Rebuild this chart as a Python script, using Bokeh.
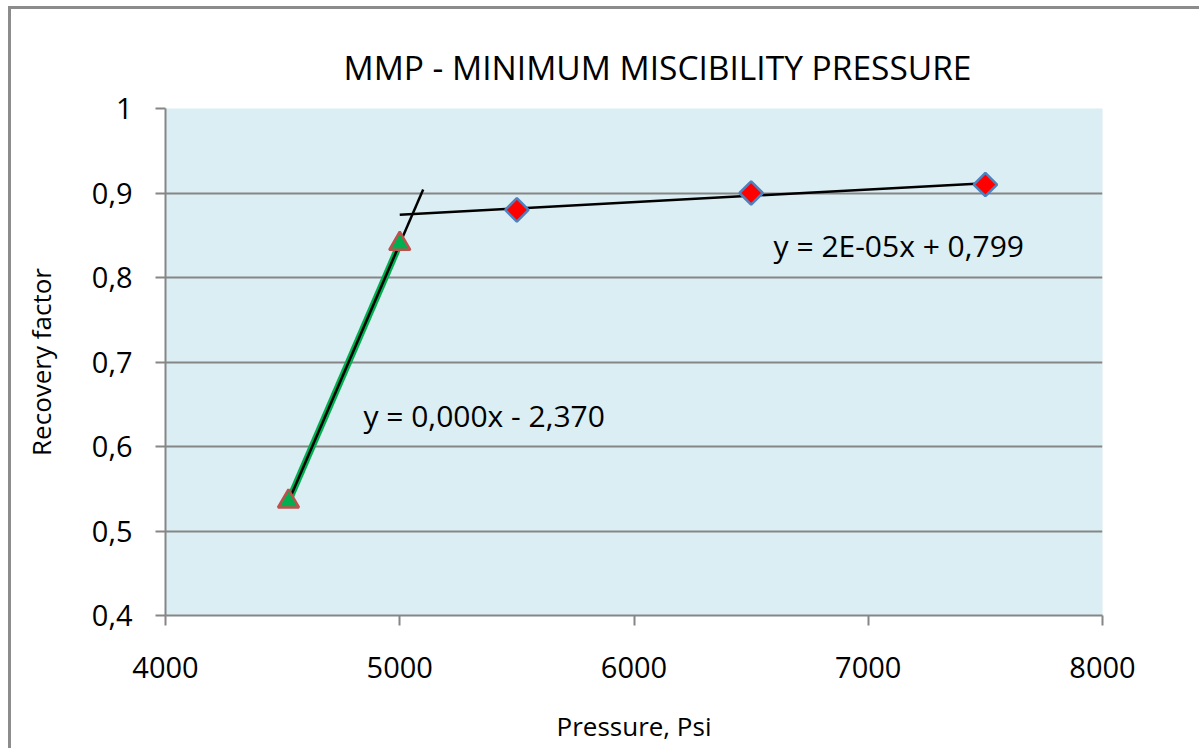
import numpy as np
from bokeh.plotting import figure
from bokeh.models import (Label, FixedTicker, CustomJSTickFormatter, Range1d)
from bokeh.embed import file_html
from bokeh.resources import INLINE

# Immiscible region (triangles) and miscible region (diamonds)
pressure_low = [4525, 5000]
recovery_low = [0.535, 0.84]
pressure_high = [5500, 6500, 7500]
recovery_high = [0.88, 0.90, 0.91]

x_ticks = [4000, 5000, 6000, 7000, 8000]
y_ticks = [0.4, 0.5, 0.6, 0.7, 0.8, 0.9, 1.0]

eq_low = "y = 0,000x - 2,370"
eq_high = "y = 2E-05x + 0,799"

FONT = "Open Sans"
GRID = "#868686"

p = figure(width=1191, height=742, output_backend="svg", toolbar_location=None,
           x_range=Range1d(4000, 8000), y_range=Range1d(0.4, 1.0),
           min_border_left=154, min_border_right=100, min_border_top=99,
           min_border_bottom=136, background_fill_color="#DAEEF3",
           border_fill_color="white", outline_line_color=None)

# chart area border (top and left edges fall inside the page)
p.styles = {"border-left": "3px solid #8C8C8C", "border-top": "3px solid #8C8C8C",
            "margin-left": "8px", "margin-top": "6px"}

p.title.text = "MMP - MINIMUM MISCIBILITY PRESSURE"
p.title.align = "left"
p.title.offset = 178
p.title.text_font = FONT
p.title.text_font_size = "33.5px"
p.title.text_font_style = "normal"
p.title.text_color = "black"
p.title.standoff = 38

# axes
for ax in (p.xaxis[0], p.yaxis[0]):
    ax.axis_line_color = GRID
    ax.axis_line_width = 2
    ax.major_tick_line_color = GRID
    ax.major_tick_line_width = 2
    ax.major_tick_out = 10
    ax.major_tick_in = 0
    ax.minor_tick_line_color = None
    ax.major_label_text_font = FONT
    ax.major_label_text_font_size = "29px"
    ax.major_label_text_color = "black"
    ax.axis_label_text_font = FONT
    ax.axis_label_text_font_size = "26px"
    ax.axis_label_text_font_style = "normal"
    ax.axis_label_text_color = "black"

p.xaxis.ticker = FixedTicker(ticks=x_ticks)
p.yaxis.ticker = FixedTicker(ticks=y_ticks)
p.xaxis.formatter = CustomJSTickFormatter(code="return tick.toFixed(0);")
p.yaxis.formatter = CustomJSTickFormatter(
    code="return String(Number(tick.toFixed(1))).replace('.', ',');")
p.xaxis.axis_label = "Pressure, Psi"
p.yaxis.axis_label = "Recovery factor"
p.xaxis.major_label_standoff = 31
p.yaxis.major_label_standoff = 23
p.xaxis.axis_label_standoff = 27
p.yaxis.axis_label_standoff = 30

p.xgrid.grid_line_color = None
p.ygrid.grid_line_color = GRID
p.ygrid.grid_line_width = 2

# linear trendlines fitted to each region
k1, b1 = np.polyfit(pressure_low, recovery_low, 1)
k2, b2 = np.polyfit(pressure_high, recovery_high, 1)
t1x = np.array([pressure_low[0], pressure_low[-1] + 100])
t2x = np.array([pressure_high[0] - 500, pressure_high[-1]])

p.line(pressure_low, recovery_low, line_color="#00B050", line_width=7)
p.line(t1x, k1 * t1x + b1, line_color="black", line_width=2.5)
p.line(t2x, k2 * t2x + b2, line_color="black", line_width=2.5)

p.scatter(pressure_low, recovery_low, marker="triangle", size=21,
          fill_color="#00B050", line_color="#C0504D", line_width=2.5)
p.scatter(pressure_high, recovery_high, marker="square", size=16.5, angle=np.pi / 4,
          fill_color="#FF0000", line_color="#4F81BD", line_width=2.5)

p.add_layout(Label(x=4845, y=0.637, text=eq_low, text_font=FONT,
                   text_font_size="30px", text_baseline="middle", text_align="left",
                   text_color="black"))
p.add_layout(Label(x=6596, y=0.838, text=eq_high, text_font=FONT,
                   text_font_size="30px", text_baseline="middle", text_align="left",
                   text_color="black"))

open("out.html", "w").write(file_html(p, INLINE))
